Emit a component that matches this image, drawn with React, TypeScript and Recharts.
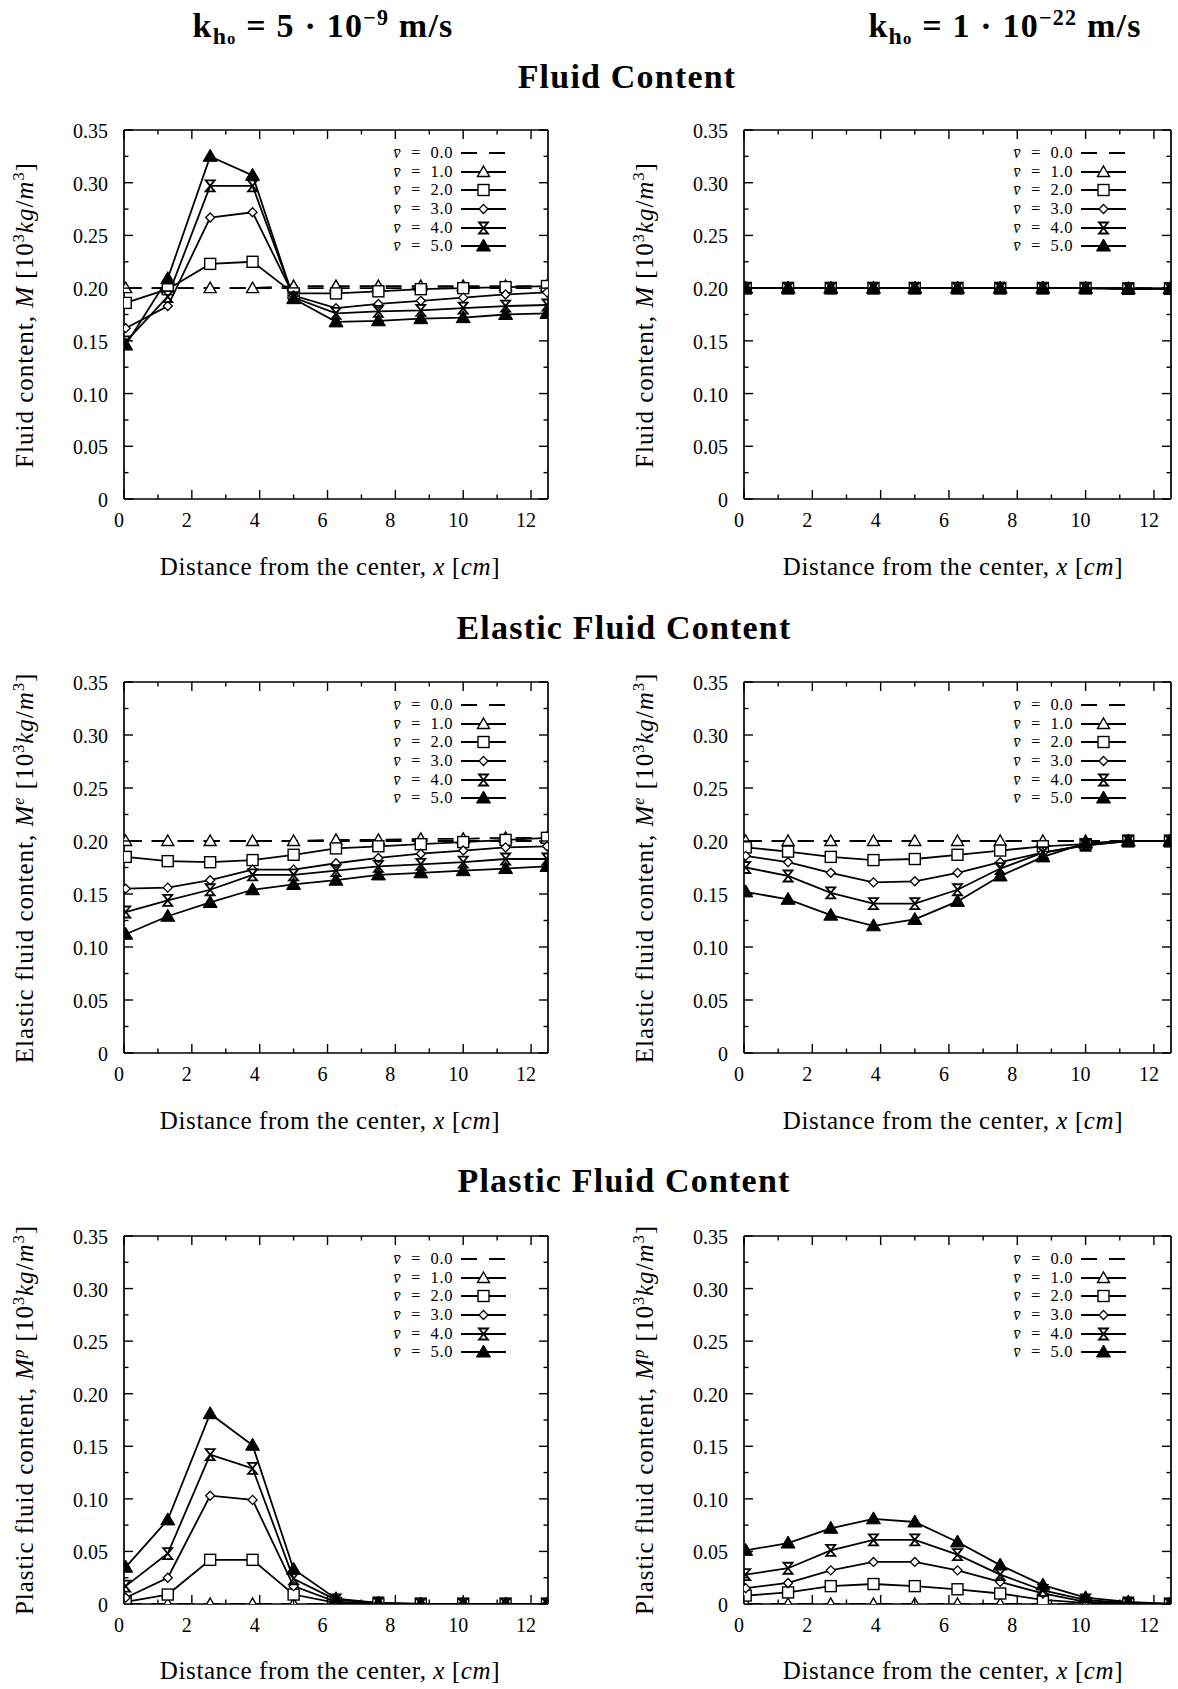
import React from "react";
import { LineChart, Line, XAxis, YAxis, Legend } from "recharts";

const FONT = '"Liberation Serif", "DejaVu Serif", serif';

// distance from the center [cm], same grid in every panel
const distance = [0.05, 1.29, 2.54, 3.79, 5.0, 6.25, 7.5, 8.75, 10.0, 11.25, 12.47];

const xTicks = [0, 1, 2, 3, 4, 5, 6, 7, 8, 9, 10, 11, 12];
const xMajor = [0, 2, 4, 6, 8, 10, 12];
const yTicks = [0, 0.025, 0.05, 0.075, 0.1, 0.125, 0.15, 0.175, 0.2, 0.225, 0.25, 0.275, 0.3, 0.325, 0.35];
const yMajor = [0, 0.05, 0.1, 0.15, 0.2, 0.25, 0.3, 0.35];

const seriesKeys = ["v0", "v1", "v2", "v3", "v4", "v5"];
const seriesNames = ["v̄ = 0.0", "v̄ = 1.0", "v̄ = 2.0", "v̄ = 3.0", "v̄ = 4.0", "v̄ = 5.0"];

// Fluid content, k = 5e-9
const fluidFastV0 = [0.2, 0.2, 0.2, 0.2, 0.2, 0.2, 0.2, 0.2, 0.2, 0.2, 0.2];
const fluidFastV1 = [0.2, 0.2, 0.2, 0.2, 0.202, 0.202, 0.202, 0.202, 0.202, 0.202, 0.202];
const fluidFastV2 = [0.186, 0.199, 0.223, 0.225, 0.195, 0.195, 0.197, 0.199, 0.2, 0.201, 0.202];
const fluidFastV3 = [0.162, 0.183, 0.267, 0.272, 0.193, 0.181, 0.185, 0.188, 0.191, 0.194, 0.196];
const fluidFastV4 = [0.149, 0.192, 0.297, 0.297, 0.191, 0.176, 0.178, 0.179, 0.181, 0.183, 0.184];
const fluidFastV5 = [0.146, 0.209, 0.325, 0.307, 0.19, 0.168, 0.169, 0.171, 0.172, 0.175, 0.176];

// Fluid content, k = 1e-22
const fluidSlowV0 = [0.2, 0.2, 0.2, 0.2, 0.2, 0.2, 0.2, 0.2, 0.2, 0.2, 0.2];
const fluidSlowV1 = [0.2, 0.2, 0.2, 0.2, 0.2, 0.2, 0.2, 0.2, 0.2, 0.1995, 0.1995];
const fluidSlowV2 = [0.2, 0.2, 0.2, 0.2, 0.2, 0.2, 0.2, 0.2, 0.2, 0.1995, 0.1995];
const fluidSlowV3 = [0.2, 0.2, 0.2, 0.2, 0.2, 0.2, 0.2, 0.2, 0.2, 0.1995, 0.1995];
const fluidSlowV4 = [0.2, 0.2, 0.2, 0.2, 0.2, 0.2, 0.2, 0.2, 0.2, 0.1995, 0.1995];
const fluidSlowV5 = [0.2, 0.2, 0.2, 0.2, 0.2, 0.2, 0.2, 0.2, 0.2, 0.1995, 0.1995];

// Elastic fluid content, k = 5e-9
const elasticFastV0 = [0.2, 0.2, 0.2, 0.2, 0.2, 0.2, 0.2, 0.2, 0.2, 0.2, 0.2];
const elasticFastV1 = [0.2, 0.2, 0.2, 0.2, 0.2, 0.201, 0.201, 0.202, 0.202, 0.203, 0.203];
const elasticFastV2 = [0.185, 0.181, 0.18, 0.182, 0.187, 0.193, 0.195, 0.197, 0.199, 0.201, 0.203];
const elasticFastV3 = [0.155, 0.156, 0.163, 0.173, 0.173, 0.179, 0.184, 0.188, 0.191, 0.194, 0.195];
const elasticFastV4 = [0.133, 0.144, 0.154, 0.168, 0.168, 0.172, 0.176, 0.178, 0.18, 0.183, 0.183];
const elasticFastV5 = [0.112, 0.129, 0.142, 0.154, 0.159, 0.163, 0.168, 0.17, 0.172, 0.174, 0.176];

// Elastic fluid content, k = 1e-22
const elasticSlowV0 = [0.2, 0.2, 0.2, 0.2, 0.2, 0.2, 0.2, 0.2, 0.2, 0.2, 0.2];
const elasticSlowV1 = [0.2, 0.2, 0.2, 0.2, 0.2, 0.2, 0.2, 0.2, 0.2, 0.2, 0.2];
const elasticSlowV2 = [0.194, 0.19, 0.185, 0.182, 0.183, 0.187, 0.191, 0.195, 0.197, 0.2, 0.2];
const elasticSlowV3 = [0.186, 0.18, 0.17, 0.161, 0.162, 0.17, 0.18, 0.189, 0.196, 0.2, 0.2];
const elasticSlowV4 = [0.175, 0.167, 0.151, 0.141, 0.141, 0.154, 0.174, 0.189, 0.196, 0.2, 0.2];
const elasticSlowV5 = [0.152, 0.145, 0.13, 0.12, 0.126, 0.143, 0.167, 0.185, 0.198, 0.2, 0.2];

// Plastic fluid content, k = 5e-9
const plasticFastV0 = [0, 0, 0, 0, 0, 0, 0, 0, 0, 0, 0];
const plasticFastV1 = [0, 0, 0, 0, 0, 0, 0, 0, 0, 0, 0];
const plasticFastV2 = [0.002, 0.009, 0.042, 0.042, 0.009, 0.001, 0, 0, 0, 0, 0];
const plasticFastV3 = [0.006, 0.025, 0.103, 0.099, 0.017, 0.002, 0, 0, 0, 0, 0];
const plasticFastV4 = [0.017, 0.048, 0.142, 0.129, 0.024, 0.004, 0.001, 0, 0, 0, 0];
const plasticFastV5 = [0.035, 0.08, 0.181, 0.151, 0.033, 0.005, 0.001, 0, 0, 0, 0];

// Plastic fluid content, k = 1e-22
const plasticSlowV0 = [0, 0, 0, 0, 0, 0, 0, 0, 0, 0, 0];
const plasticSlowV1 = [0, 0, 0, 0, 0, 0, 0, 0, 0, 0, 0];
const plasticSlowV2 = [0.008, 0.011, 0.017, 0.019, 0.017, 0.014, 0.01, 0.004, 0.001, 0, 0];
const plasticSlowV3 = [0.015, 0.02, 0.032, 0.04, 0.04, 0.032, 0.021, 0.01, 0.002, 0.001, 0];
const plasticSlowV4 = [0.028, 0.034, 0.051, 0.061, 0.061, 0.047, 0.028, 0.013, 0.004, 0.001, 0];
const plasticSlowV5 = [0.051, 0.058, 0.072, 0.081, 0.078, 0.059, 0.037, 0.018, 0.006, 0.002, 0];

const buildRows = (series: number[][]) =>
  distance.map((x, i) => {
    const row: Record<string, number> = { x };
    seriesKeys.forEach((k, s) => {
      row[k] = series[s][i];
    });
    return row;
  });

const Marker = ({ kind, cx, cy }: { kind: string; cx: number; cy: number }) => {
  switch (kind) {
    case "v1":
      return (
        <path
          d={`M${cx},${cy - 6} L${cx + 6},${cy + 4.5} L${cx - 6},${cy + 4.5} Z`}
          fill="#fff"
          stroke="#000"
          strokeWidth={1.4}
        />
      );
    case "v2":
      return <rect x={cx - 5.5} y={cy - 5.5} width={11} height={11} fill="#fff" stroke="#000" strokeWidth={1.4} />;
    case "v3":
      return (
        <path
          d={`M${cx},${cy - 4.5} L${cx + 4.5},${cy} L${cx},${cy + 4.5} L${cx - 4.5},${cy} Z`}
          fill="#fff"
          stroke="#000"
          strokeWidth={1.3}
        />
      );
    case "v4":
      return (
        <path
          d={`M${cx - 4.5},${cy - 5.5} L${cx + 4.5},${cy - 5.5} L${cx - 4.5},${cy + 5.5} L${cx + 4.5},${cy + 5.5} Z`}
          fill="none"
          stroke="#000"
          strokeWidth={1.8}
        />
      );
    case "v5":
      return (
        <path
          d={`M${cx},${cy - 7} L${cx + 7},${cy + 5} L${cx - 7},${cy + 5} Z`}
          fill="#000"
          stroke="#000"
          strokeWidth={1}
        />
      );
    default:
      return null;
  }
};

const BottomTick = (props: any) => {
  const { x, y, payload } = props;
  const major = xMajor.includes(payload.value);
  return (
    <g>
      <line x1={x} x2={x} y1={y} y2={y - (major ? 9 : 4.5)} stroke="#000" strokeWidth={1.4} />
      {major && (
        <text x={x - 5} y={y + 28} textAnchor="middle" fontFamily={FONT} fontSize={20} fill="#000">
          {payload.value}
        </text>
      )}
    </g>
  );
};

const TopTick = (props: any) => {
  const { x, y, payload } = props;
  const major = xMajor.includes(payload.value);
  return <line x1={x} x2={x} y1={y} y2={y + (major ? 9 : 4.5)} stroke="#000" strokeWidth={1.4} />;
};

const LeftTick = (props: any) => {
  const { x, y, payload } = props;
  const major = yMajor.includes(payload.value);
  return (
    <g>
      <line x1={x} x2={x + (major ? 9 : 4.5)} y1={y} y2={y} stroke="#000" strokeWidth={1.4} />
      {major && (
        <text x={x - 16} y={y + 8} textAnchor="end" fontFamily={FONT} fontSize={20} fill="#000">
          {payload.value === 0 ? "0" : payload.value.toFixed(2)}
        </text>
      )}
    </g>
  );
};

const RightTick = (props: any) => {
  const { x, y, payload } = props;
  const major = yMajor.includes(payload.value);
  return <line x1={x} x2={x - (major ? 9 : 4.5)} y1={y} y2={y} stroke="#000" strokeWidth={1.4} />;
};

const LegendBox = (props: any) => {
  const items = [...(props.payload || [])].sort((a: any, b: any) =>
    String(a.dataKey).localeCompare(String(b.dataKey))
  );
  return (
    <div style={{ fontFamily: FONT, fontSize: 16.5, color: "#000" }}>
      {items.map((p: any) => {
        const key = String(p.dataKey);
        const [sym, val] = String(p.value).split(" = ");
        return (
          <div key={key} style={{ display: "flex", alignItems: "center", height: 18.6 }}>
            <span
              style={{
                width: 72,
                textAlign: "right",
                whiteSpace: "nowrap",
                wordSpacing: 5,
                letterSpacing: 0.6,
                lineHeight: "18px",
              }}
            >
              <i>{sym}</i> = {val}
            </span>
            <svg width={48} height={18} style={{ marginLeft: 8, overflow: "visible" }}>
              <line
                x1={0}
                x2={45}
                y1={9}
                y2={9}
                stroke="#000"
                strokeWidth={1.8}
                strokeDasharray={key === "v0" ? "16 12" : undefined}
              />
              {key !== "v0" && <Marker kind={key} cx={22.5} cy={9} />}
            </svg>
          </div>
        );
      })}
    </div>
  );
};

const axisStroke = { stroke: "#000", strokeWidth: 1.7 };

type PanelProps = {
  left: number;
  top: number;
  width: number;
  plotHeight: number;
  rightPad: number;
  rows: Record<string, number>[];
};

const Panel = ({ left, top, width, plotHeight, rightPad, rows }: PanelProps) => (
  <div style={{ position: "absolute", left, top }}>
    <LineChart
      width={width}
      height={30 + plotHeight + 71}
      data={rows}
      margin={{ top: 29, right: rightPad - 1, bottom: 0, left: 0 }}
    >
      <XAxis
        dataKey="x"
        type="number"
        domain={[0, 12.5]}
        allowDataOverflow
        ticks={xTicks}
        interval={0}
        height={71}
        tickSize={0}
        tickMargin={0}
        tickLine={false}
        axisLine={axisStroke}
        tick={BottomTick}
      />
      <XAxis
        xAxisId="top"
        orientation="top"
        dataKey="x"
        type="number"
        domain={[0, 12.5]}
        allowDataOverflow
        ticks={xTicks}
        interval={0}
        height={1}
        tickSize={0}
        tickMargin={0}
        tickLine={false}
        axisLine={axisStroke}
        tick={TopTick}
      />
      <YAxis
        type="number"
        domain={[0, 0.35]}
        allowDataOverflow
        ticks={yTicks}
        interval={0}
        width={124}
        tickSize={0}
        tickMargin={0}
        tickLine={false}
        axisLine={axisStroke}
        tick={LeftTick}
      />
      <YAxis
        yAxisId="right"
        orientation="right"
        type="number"
        domain={[0, 0.35]}
        allowDataOverflow
        ticks={yTicks}
        interval={0}
        width={1}
        tickSize={0}
        tickMargin={0}
        tickLine={false}
        axisLine={axisStroke}
        tick={RightTick}
      />
      <Legend
        layout="vertical"
        align="center"
        verticalAlign="middle"
        content={LegendBox}
        wrapperStyle={{ position: "absolute", left: 381, top: 44, width: 140, height: "auto" }}
      />
      {seriesKeys.map((k, s) => (
        <Line
          key={k}
          dataKey={k}
          name={seriesNames[s]}
          type="linear"
          stroke="#000"
          strokeWidth={1.8}
          strokeDasharray={k === "v0" || k === "v1" ? "16 10" : undefined}
          isAnimationActive={false}
          dot={
            k === "v0"
              ? false
              : (p: any) => <Marker key={`${k}-${p.index}`} kind={k} cx={p.cx} cy={p.cy} />
          }
          activeDot={false}
        />
      ))}
    </LineChart>
  </div>
);

const Centered = ({ x, y, style, children }: { x: number; y: number; style?: React.CSSProperties; children: React.ReactNode }) => (
  <div
    style={{
      position: "absolute",
      left: x,
      top: y,
      transform: "translate(-50%, -50%)",
      whiteSpace: "nowrap",
      fontFamily: FONT,
      color: "#000",
      ...style,
    }}
  >
    {children}
  </div>
);

const VerticalLabel = ({ x, y, children }: { x: number; y: number; children: React.ReactNode }) => (
  <Centered x={x} y={y} style={{ fontSize: 25, letterSpacing: 1, transform: "translate(-50%, -50%) rotate(-90deg)" }}>
    {children}
  </Centered>
);

const sup = { fontSize: "0.65em", verticalAlign: "0.55em", lineHeight: 0 };
const sub = { fontSize: "0.7em", verticalAlign: "-0.3em", lineHeight: 0 };

const unit = (
  <>
    [10<span style={sup}>3</span>
    <i>kg</i>/<i>m</i>
    <span style={sup}>3</span>]
  </>
);

const xLabel = (
  <>
    Distance from the center, <i>x</i> [<i>cm</i>]
  </>
);

const panels = [
  { rows: buildRows([fluidFastV0, fluidFastV1, fluidFastV2, fluidFastV3, fluidFastV4, fluidFastV5]), left: 0, top: 100, width: 560, rightPad: 12, plotHeight: 369 },
  { rows: buildRows([fluidSlowV0, fluidSlowV1, fluidSlowV2, fluidSlowV3, fluidSlowV4, fluidSlowV5]), left: 620, top: 100, width: 558, rightPad: 7, plotHeight: 369 },
  { rows: buildRows([elasticFastV0, elasticFastV1, elasticFastV2, elasticFastV3, elasticFastV4, elasticFastV5]), left: 0, top: 652, width: 560, rightPad: 12, plotHeight: 371 },
  { rows: buildRows([elasticSlowV0, elasticSlowV1, elasticSlowV2, elasticSlowV3, elasticSlowV4, elasticSlowV5]), left: 620, top: 652, width: 558, rightPad: 7, plotHeight: 371 },
  { rows: buildRows([plasticFastV0, plasticFastV1, plasticFastV2, plasticFastV3, plasticFastV4, plasticFastV5]), left: 0, top: 1206, width: 560, rightPad: 12, plotHeight: 368 },
  { rows: buildRows([plasticSlowV0, plasticSlowV1, plasticSlowV2, plasticSlowV3, plasticSlowV4, plasticSlowV5]), left: 620, top: 1206, width: 558, rightPad: 7, plotHeight: 368 },
];

const yLabels = [
  <>
    Fluid content, <i>M</i> {unit}
  </>,
  <>
    Elastic fluid content, <i>M</i>
    <span style={sup}>
      <i>e</i>
    </span>{" "}
    {unit}
  </>,
  <>
    Plastic fluid content, <i>M</i>
    <span style={sup}>
      <i>p</i>
    </span>{" "}
    {unit}
  </>,
];

const rowCenters = [315, 868, 1420];
const xLabelY = [567, 1121, 1671];

export default function App() {
  const titleStyle: React.CSSProperties = { fontSize: 34, fontWeight: "bold", letterSpacing: 1.2 };
  return (
    <div style={{ position: "absolute", left: 0, top: 0, width: 1178, height: 1689, background: "#fff", overflow: "hidden" }}>
      <Centered x={323} y={26} style={titleStyle}>
        k
        <span style={sub}>
          h<span style={{ fontSize: "0.7em" }}>o</span>
        </span>{" "}
        = 5 · 10<span style={sup}>−9</span> m/s
      </Centered>
      <Centered x={1005} y={26} style={titleStyle}>
        k
        <span style={sub}>
          h<span style={{ fontSize: "0.7em" }}>o</span>
        </span>{" "}
        = 1 · 10<span style={sup}>−22</span> m/s
      </Centered>
      <Centered x={627} y={77} style={titleStyle}>
        Fluid Content
      </Centered>
      <Centered x={624} y={628} style={titleStyle}>
        Elastic Fluid Content
      </Centered>
      <Centered x={624} y={1181} style={titleStyle}>
        Plastic Fluid Content
      </Centered>

      {panels.map((p, i) => (
        <Panel key={i} {...p} />
      ))}

      {[0, 1, 2].map((r) => (
        <React.Fragment key={r}>
          <VerticalLabel x={25} y={rowCenters[r]}>
            {yLabels[r]}
          </VerticalLabel>
          <VerticalLabel x={645} y={rowCenters[r]}>
            {yLabels[r]}
          </VerticalLabel>
          <Centered x={330} y={xLabelY[r]} style={{ fontSize: 25, letterSpacing: 0.6 }}>
            {xLabel}
          </Centered>
          <Centered x={953} y={xLabelY[r]} style={{ fontSize: 25, letterSpacing: 0.6 }}>
            {xLabel}
          </Centered>
        </React.Fragment>
      ))}
    </div>
  );
}
